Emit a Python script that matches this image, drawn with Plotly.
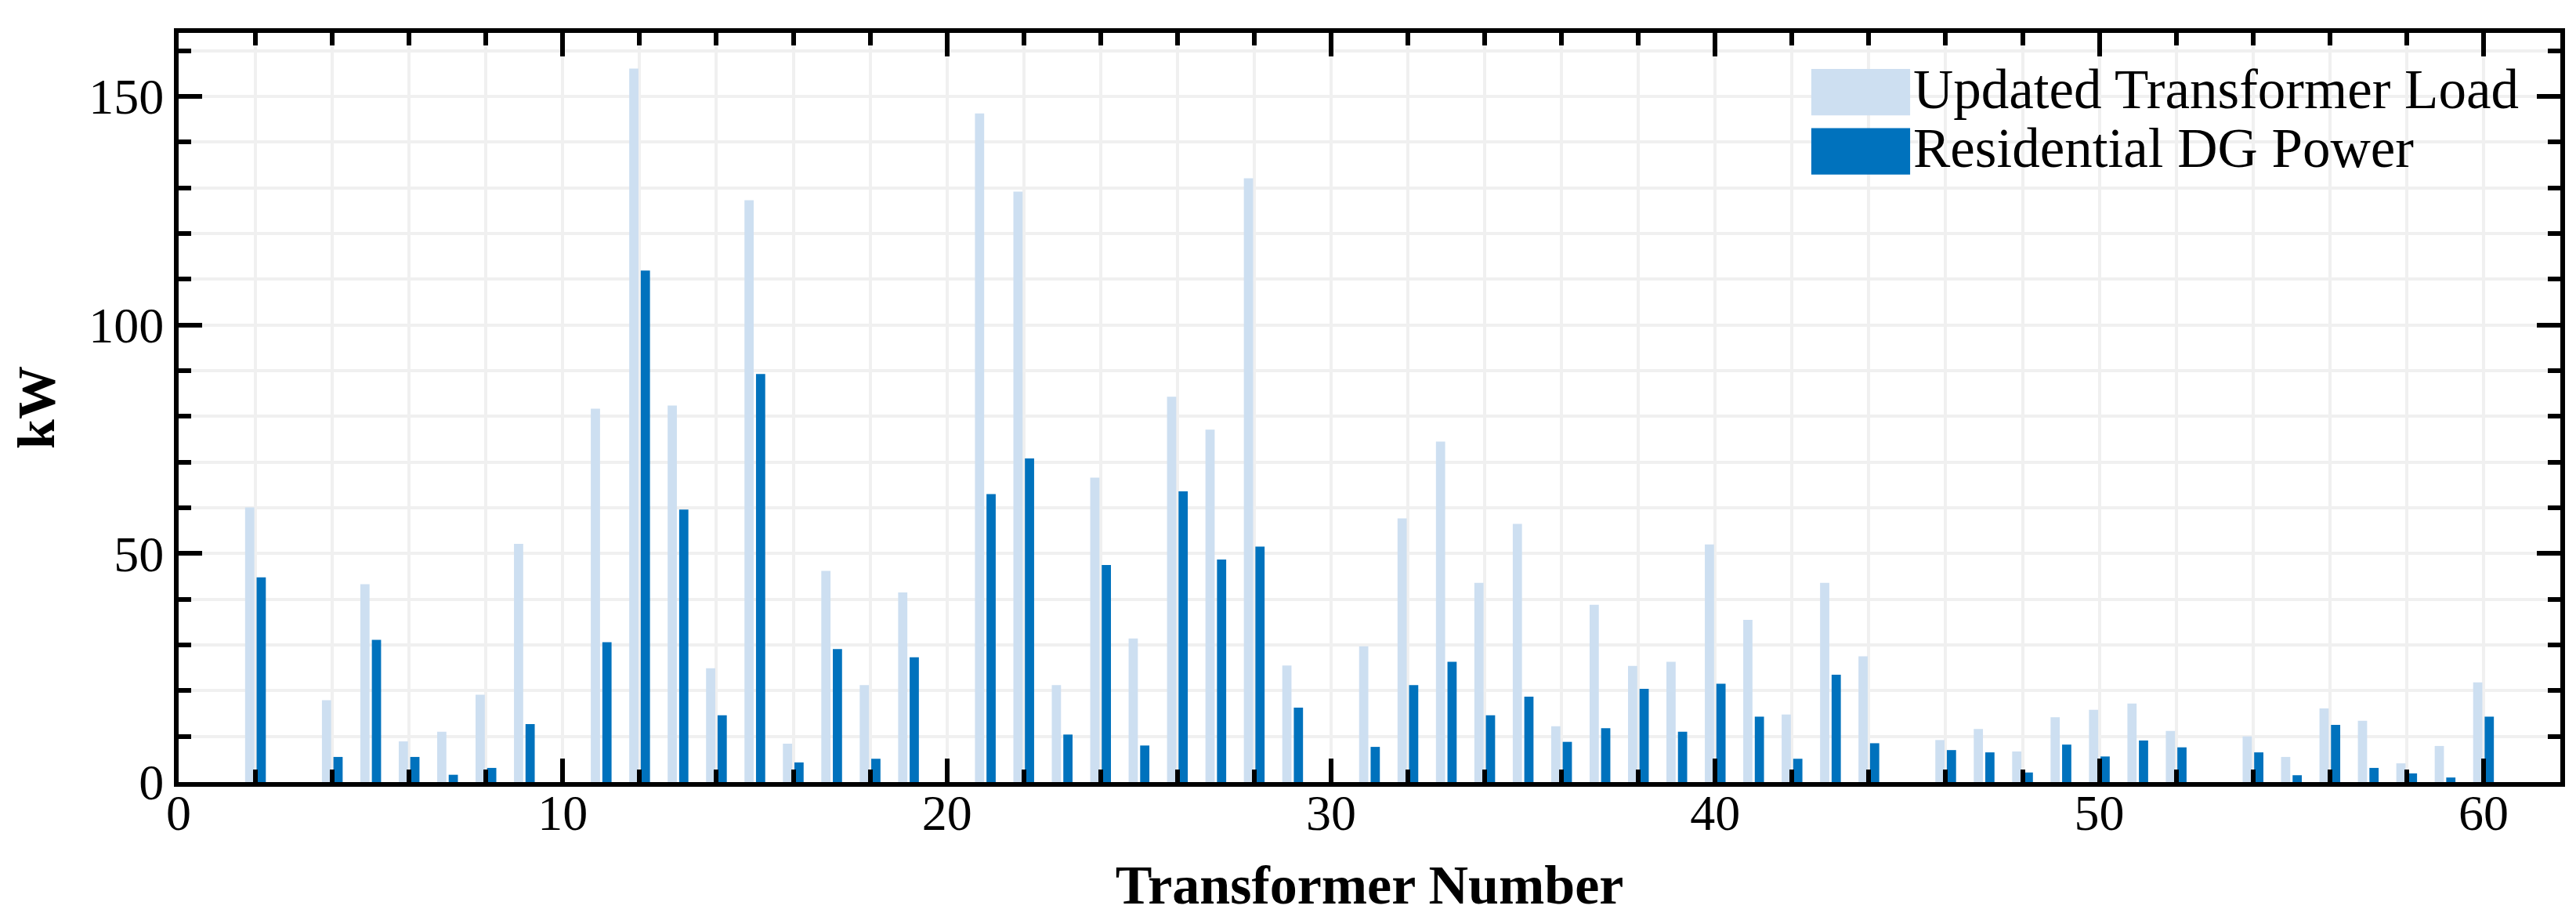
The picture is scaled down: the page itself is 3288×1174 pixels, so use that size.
import plotly.graph_objects as go

# transformer index
transformers = list(range(1, 61))

# Updated Transformer Load (kW)
updated_load = [
    0, 60.1, 0, 17.9, 43.3, 8.9, 11.0, 19.1, 52.1, 0,
    81.7, 156.1, 82.4, 24.9, 127.3, 8.4, 46.2, 21.2, 41.5, 0,
    146.3, 129.2, 21.2, 66.6, 31.4, 84.3, 77.1, 132.1, 25.5, 0,
    29.7, 57.7, 74.5, 43.6, 56.5, 12.2, 38.8, 25.4, 26.3, 52.0,
    35.5, 14.8, 43.6, 27.5, 0, 9.2, 11.6, 6.7, 14.2, 15.8,
    17.2, 11.2, 0, 10.0, 5.5, 16.1, 13.4, 4.1, 7.9, 21.8,
]

# Residential DG Power (kW)
dg_power = [
    0, 44.8, 0, 5.5, 31.1, 5.5, 1.6, 3.1, 12.7, 0,
    30.6, 111.9, 59.6, 14.6, 89.3, 4.3, 29.1, 5.1, 27.3, 0,
    63.0, 70.8, 10.4, 47.5, 8.0, 63.6, 48.7, 51.5, 16.3, 0,
    7.7, 21.2, 26.3, 14.6, 18.7, 8.8, 11.8, 20.4, 11.0, 21.5,
    14.3, 5.1, 23.5, 8.5, 0, 7.0, 6.5, 2.1, 8.2, 5.6,
    9.1, 7.6, 0, 6.5, 1.5, 12.5, 3.1, 1.9, 1.0, 14.3,
]

series_names = ["Updated Transformer Load", "Residential DG Power"]
light_blue = "#cddff1"
dark_blue = "#0072bd"

FONT = "Liberation Serif"
grid = "#f0f0f0"

fig = go.Figure()
fig.add_trace(go.Bar(x=transformers, y=updated_load, name=series_names[0],
                     marker=dict(color=light_blue, line=dict(width=0)), showlegend=False))
fig.add_trace(go.Bar(x=transformers, y=dg_power, name=series_names[1],
                     marker=dict(color=dark_blue, line=dict(width=0)), showlegend=False))

# hand-made legend with big swatches like the original
for i, (name, col) in enumerate(zip(series_names, [light_blue, dark_blue])):
    y_top = 0.952 - i * 0.079
    fig.add_shape(type="rect", xref="paper", yref="paper",
                  x0=0.6855, x1=0.727, y0=y_top - 0.062, y1=y_top,
                  fillcolor=col, line=dict(width=0), layer="above")
    fig.add_annotation(text=name, xref="paper", yref="paper",
                       x=0.7275, y=y_top - 0.027, xanchor="left", yanchor="middle",
                       showarrow=False, font=dict(family=FONT, size=71, color="black"))

axis_common = dict(
    showline=True, linecolor="black", linewidth=6, mirror="allticks",
    ticks="inside", tickcolor="black", tickwidth=6, ticklen=30,
    showgrid=True, gridcolor=grid, gridwidth=4, zeroline=False,
    tickfont=dict(family=FONT, size=64, color="black"),
)

fig.update_xaxes(
    range=[0, 62], tickmode="linear", tick0=0, dtick=10,
    minor=dict(dtick=2, ticks="inside", ticklen=16, tickwidth=6, tickcolor="black",
               showgrid=True, gridcolor=grid, gridwidth=4),
    ticklabelstandoff=-22,
    title=dict(text="<b>Transformer Number</b>", font=dict(family=FONT, size=70, color="black"),
               standoff=34),
    **axis_common,
)
fig.update_yaxes(
    range=[0, 163.9], tickmode="linear", tick0=0, dtick=50,
    minor=dict(dtick=10, ticks="inside", ticklen=16, tickwidth=6, tickcolor="black",
               showgrid=True, gridcolor=grid, gridwidth=4),
    title=dict(text="<b>kW</b>", font=dict(family=FONT, size=68, color="black"),
               standoff=26),
    **axis_common,
)

fig.update_layout(
    width=3288, height=1174,
    margin=dict(l=220, r=28, t=34, b=184),
    barmode="group", bargap=0.4, bargroupgap=0.2,
    plot_bgcolor="white", paper_bgcolor="white",
    font=dict(family=FONT, color="black"),
)

fig.write_html("out.html")
